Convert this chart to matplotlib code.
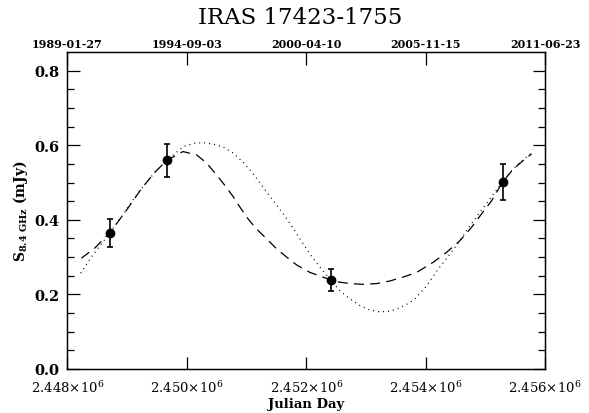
import matplotlib
matplotlib.use('Agg')
import matplotlib.pyplot as plt

# Messpunkte (Julian Day, Fluss in mJy, Fehler)
obs_jd = [2448707, 2449667, 2452414, 2455290]
obs_flux = [0.365, 0.560, 0.239, 0.501]
obs_err = [0.037, 0.044, 0.030, 0.048]

# gestrichelte Modellkurve
dash_jd = [2448231, 2448456, 2448707, 2448985, 2449236, 2449461, 2449667, 2449935,
           2450164, 2450332, 2450499, 2450638, 2450777, 2450889, 2451028, 2451169,
           2451337, 2451504, 2451672, 2451839, 2452062, 2452285, 2452509, 2452732,
           2452955, 2453179, 2453402, 2453653, 2453849, 2454127, 2454352, 2454574,
           2454770, 2454938, 2455105, 2455290, 2455467, 2455635, 2455775]
dash_flux = [0.297, 0.324, 0.365, 0.425, 0.483, 0.527, 0.560, 0.583,
             0.574, 0.552, 0.520, 0.492, 0.462, 0.434, 0.402, 0.375,
             0.349, 0.322, 0.300, 0.279, 0.259, 0.246, 0.234, 0.229,
             0.227, 0.229, 0.236, 0.248, 0.259, 0.286, 0.313, 0.344,
             0.380, 0.416, 0.451, 0.501, 0.536, 0.559, 0.577]

# gepunktete Modellkurve
dot_jd = [2448221, 2448399, 2448566, 2448707, 2448901, 2449069, 2449236, 2449461,
          2449667, 2449940, 2450107, 2450275, 2450442, 2450610, 2450777, 2450945,
          2451112, 2451280, 2451447, 2451615, 2451755, 2451894, 2452062, 2452229,
          2452397, 2452564, 2452732, 2452899, 2453067, 2453234, 2453402, 2453569,
          2453725, 2453821, 2454017, 2454211, 2454407, 2454574, 2454742, 2454909,
          2455077, 2455244, 2455412, 2455579, 2455775]
dot_flux = [0.257, 0.300, 0.335, 0.365, 0.407, 0.447, 0.483, 0.527,
            0.560, 0.596, 0.605, 0.607, 0.603, 0.595, 0.579, 0.554,
            0.523, 0.487, 0.451, 0.416, 0.384, 0.349, 0.308, 0.273,
            0.241, 0.210, 0.188, 0.170, 0.158, 0.153, 0.155, 0.164,
            0.177, 0.188, 0.223, 0.268, 0.308, 0.344, 0.384, 0.420,
            0.456, 0.492, 0.527, 0.554, 0.579]

xticks = [2448000, 2450000, 2452000, 2454000, 2456000]
xticklabels = [r'$2.448{\times}10^{6}$', r'$2.450{\times}10^{6}$', r'$2.452{\times}10^{6}$',
               r'$2.454{\times}10^{6}$', r'$2.456{\times}10^{6}$']
top_labels = ['1989-01-27', '1994-09-03', '2000-04-10', '2005-11-15', '2011-06-23']
yticks = [0.0, 0.2, 0.4, 0.6, 0.8]

plt.rcParams['font.family'] = 'DejaVu Serif'
plt.rcParams['mathtext.fontset'] = 'dejavuserif'

fig = plt.figure(figsize=(5.89, 4.14), dpi=100)
ax = fig.add_axes([0.1146, 0.1063, 0.8107, 0.7657])

ax.plot(dash_jd, dash_flux, color='black', lw=0.9, dashes=(8, 5))
ax.plot(dot_jd, dot_flux, color='black', lw=0.9, dashes=(0.8, 3.2))
ax.errorbar(obs_jd, obs_flux, yerr=obs_err, fmt='o', color='black', ms=6,
            elinewidth=1.2, capsize=2.5, capthick=1.2)

ax.set_xlim(2448000, 2456000)
ax.set_ylim(0, 0.85)
ax.set_xticks(xticks)
ax.set_xticklabels(xticklabels, fontsize=9.5)
ax.set_yticks(yticks)
ax.set_yticklabels(['%.1f' % v for v in yticks], fontsize=10.5, fontweight='bold')
ax.set_yticks([0.05 * i for i in range(17)], minor=True)
ax.tick_params(axis='both', which='both', direction='in', top=False, right=True)
ax.tick_params(axis='both', which='major', length=9, width=0.9)
ax.tick_params(axis='y', which='minor', length=5, width=0.9)
ax.tick_params(axis='x', which='major', pad=7)
ax.tick_params(axis='y', which='major', pad=6)
for s in ax.spines.values():
    s.set_linewidth(1.0)

ax.set_xlabel('Julian Day', fontsize=9.5, fontweight='bold', labelpad=2)
ax.set_ylabel(r'S$_{\mathbf{8.4\ GHz}}$ (mJy)', fontsize=10, fontweight='bold', labelpad=3)

ax2 = ax.twiny()
ax2.set_xlim(ax.get_xlim())
ax2.set_xticks(xticks)
ax2.set_xticklabels(top_labels, fontsize=8, fontweight='bold')
ax2.tick_params(axis='x', direction='in', length=9, width=0.9, pad=2)

fig.text(0.51, 0.957, 'IRAS 17423-1755', ha='center', va='center', fontsize=16.5)

fig.savefig('out.png', dpi=100)
